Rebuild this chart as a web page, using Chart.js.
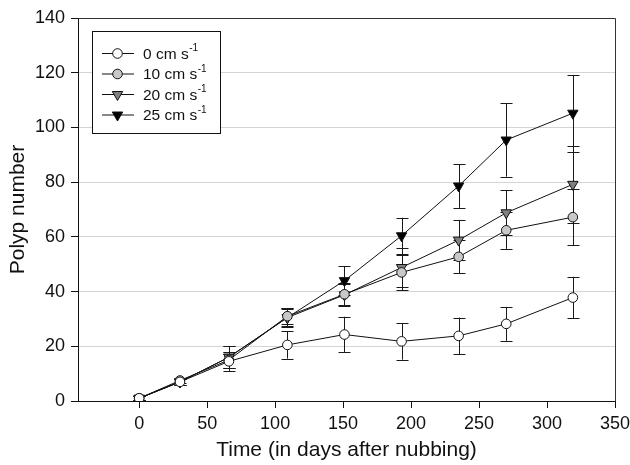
<!DOCTYPE html>
<html>
<head>
<meta charset="utf-8">
<script src="https://cdn.jsdelivr.net/npm/chart.js@4"></script>
<style>
html,body{margin:0;padding:0;background:#fff;}
#wrap{width:630px;height:465px;}
</style>
</head>
<body>
<div id="wrap"><canvas id="c" width="630" height="465"></canvas></div>
<script>
const days = [0, 30, 66, 109, 151, 193, 235, 270, 319];
const labels = ['0 cm s', '10 cm s', '20 cm s', '25 cm s'];
const v0  = [1, 7, 14.5, 20.5, 24.3, 21.8, 23.8, 28.2, 37.8];
const e0  = [0.8, 1, 3.5, 5, 6.5, 6.7, 6.7, 6.2, 7.6];
const v10 = [1, 7.5, 15, 31, 39, 47, 52.7, 62.4, 67.2];
const e10 = [0.8, 1, 3, 3, 4, 6.5, 6, 6.8, 10.3];
const v20 = [1, 7, 16, 30.5, 38.8, 48.8, 58.8, 68.8, 79.2];
const e20 = [0.8, 1, 4, 3, 4, 7, 7.4, 8.3, 14];
const v25 = [1, 7, 16, 30.5, 44, 60.4, 78.6, 95.4, 105.2];
const e25 = [0.8, 1, 4, 3.5, 5.3, 6.6, 8, 13.4, 14];
const yTicks = [0, 20, 40, 60, 80, 100, 120, 140];
const xTicks = [0, 50, 100, 150, 200, 250, 300, 350];

const FONT = "'Liberation Sans', Arial, Helvetica, sans-serif";
const values = [v0, v10, v20, v25];
const errors = [e0, e10, e20, e25];
const fills = ['#ffffff', '#c8c8c8', '#808080', '#000000'];
const styles = ['circle', 'circle', 'triangle', 'triangle'];
const radii = [4.8, 4.8, 6, 6];
const rots = [0, 0, 180, 180];

const datasets = values.map((v, i) => ({
  label: labels[i],
  data: days.map((d, j) => ({x: d, y: v[j]})),
  borderColor: '#111',
  borderWidth: 1,
  pointStyle: styles[i],
  pointRadius: radii[i],
  pointRotation: rots[i],
  pointBackgroundColor: fills[i],
  pointBorderColor: '#111',
  pointBorderWidth: 1,
  fill: false,
  tension: 0,
  errors: errors[i]
}));

function drawMarker(ctx, style, x, y, r, rot, fill) {
  ctx.save();
  ctx.fillStyle = fill; ctx.strokeStyle = '#111'; ctx.lineWidth = 1;
  ctx.beginPath();
  if (style === 'circle') {
    ctx.arc(x, y, r, 0, Math.PI * 2);
  } else {
    let rad = rot * Math.PI / 180;
    for (let k = 0; k < 3; k++) {
      const px = x + Math.sin(rad) * r, py = y - Math.cos(rad) * r;
      if (k === 0) ctx.moveTo(px, py); else ctx.lineTo(px, py);
      rad += 2 * Math.PI / 3;
    }
    ctx.closePath();
  }
  ctx.fill(); ctx.stroke();
  ctx.restore();
}

const errorBars = {
  id: 'errorBars',
  beforeDatasetsDraw(chart) {
    const ctx = chart.ctx, xs = chart.scales.x, ys = chart.scales.y;
    ctx.save();
    ctx.strokeStyle = '#1a1a1a';
    ctx.lineWidth = 1;
    chart.data.datasets.forEach(ds => {
      ds.data.forEach((p, j) => {
        const e = ds.errors[j];
        const x = Math.round(xs.getPixelForValue(p.x)) + 0.5;
        const yt = ys.getPixelForValue(p.y + e);
        const yb = ys.getPixelForValue(p.y - e);
        ctx.beginPath();
        ctx.moveTo(x, yt); ctx.lineTo(x, yb);
        ctx.moveTo(x - 6, Math.round(yt) + 0.5); ctx.lineTo(x + 6, Math.round(yt) + 0.5);
        ctx.moveTo(x - 6, Math.round(yb) + 0.5); ctx.lineTo(x + 6, Math.round(yb) + 0.5);
        ctx.stroke();
      });
    });
    ctx.restore();
  },
  afterDraw(chart) {
    const ctx = chart.ctx, a = chart.chartArea;
    ctx.save();
    ctx.strokeStyle = '#333';
    ctx.lineWidth = 1;
    ctx.beginPath();
    ctx.moveTo(Math.round(a.left) + 0.5, Math.round(a.top) + 0.5);
    ctx.lineTo(Math.round(a.right) + 0.5, Math.round(a.top) + 0.5);
    ctx.lineTo(Math.round(a.right) + 0.5, Math.round(a.bottom) + 0.5);
    ctx.stroke();
    const bx = 92, by = 31, bw = 128, bh = 102;
    ctx.fillStyle = '#fff';
    ctx.fillRect(bx, by, bw, bh);
    ctx.strokeStyle = '#111';
    ctx.strokeRect(bx + 0.5, by + 0.5, bw, bh);
    chart.data.datasets.forEach((ds, i) => {
      const y = 53.5 + i * 20.5;
      ctx.strokeStyle = '#111';
      ctx.beginPath();
      ctx.moveTo(102, y); ctx.lineTo(134, y);
      ctx.stroke();
      drawMarker(ctx, styles[i], 117.5, y, radii[i], rots[i], fills[i]);
      ctx.fillStyle = '#111';
      ctx.textBaseline = 'middle';
      ctx.textAlign = 'left';
      ctx.font = '15.5px ' + FONT;
      ctx.fillText(ds.label, 143, y + 1);
      const w = ctx.measureText(ds.label).width;
      ctx.font = '10px ' + FONT;
      ctx.fillText('-1', 143 + w + 0.5, y - 5);
    });
    ctx.restore();
  }
};

new Chart(document.getElementById('c'), {
  type: 'line',
  data: { datasets },
  plugins: [errorBars],
  options: {
    responsive: false,
    animation: false,
    layout: { padding: { left: 0, right: 15, top: 18, bottom: 0 } },
    plugins: { legend: { display: false }, tooltip: { enabled: false } },
    scales: {
      x: {
        type: 'linear',
        min: -45, max: 350,
        afterBuildTicks: s => { s.ticks = xTicks.map(v => ({value: v})); },
        afterFit: s => { s.height = 64; s.paddingRight = 0; s.paddingLeft = 0; },
        ticks: { font: { family: FONT, size: 18 }, color: '#111', padding: 5, maxRotation: 0 },
        grid: { drawOnChartArea: false, tickLength: 7, tickColor: '#111', color: '#111' },
        border: { color: '#111', width: 1 },
        title: { display: true, text: 'Time (in days after nubbing)', font: { family: FONT, size: 21 }, color: '#111', padding: { top: 2, bottom: 2 } }
      },
      y: {
        type: 'linear',
        min: 0, max: 140,
        afterBuildTicks: s => { s.ticks = yTicks.map(v => ({value: v})); },
        afterFit: s => { s.width = 78; },
        ticks: { font: { family: FONT, size: 18 }, color: '#111', padding: 6 },
        grid: {
          tickLength: 7,
          tickColor: '#111',
          color: c => (c.tick && (c.tick.value === 0 || c.tick.value === 140)) ? 'rgba(0,0,0,0)' : '#d4d4d4',
          lineWidth: 1
        },
        border: { color: '#111', width: 1 },
        title: { display: true, text: 'Polyp number', font: { family: FONT, size: 21 }, color: '#111', padding: { top: 6, bottom: 0 } }
      }
    }
  }
});
</script>
</body>
</html>
